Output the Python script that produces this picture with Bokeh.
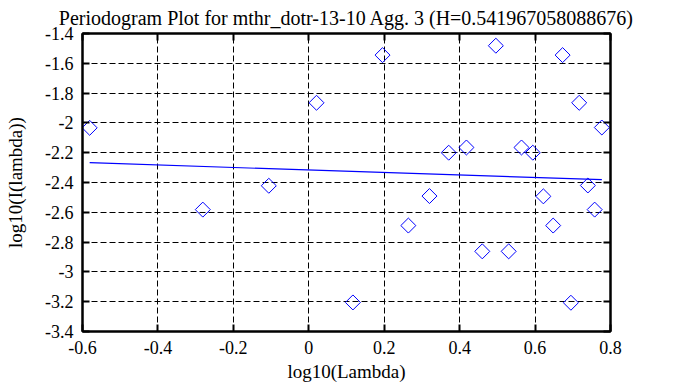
import math
import numpy as np
from bokeh.plotting import figure
from bokeh.models import (LinearAxis, FixedTicker, Range1d, ColumnDataSource, Title,
                          CustomJSTickFormatter)
from bokeh.embed import file_html
from bokeh.resources import INLINE

# Data
log_lambda = [-0.581, -0.281, -0.106, 0.0205, 0.117, 0.1955, 0.264, 0.320, 0.371,
              0.418, 0.460, 0.496, 0.530, 0.564, 0.594, 0.622, 0.648, 0.673,
              0.695, 0.717, 0.740, 0.758, 0.777]
log_I = [-2.033, -2.582, -2.422, -1.865, -3.205, -1.545, -2.689, -2.491, -2.200,
         -2.165, -2.862, -1.482, -2.862, -2.165, -2.200, -2.493, -2.689, -1.545,
         -3.207, -1.865, -2.420, -2.582, -2.031]
H = 0.541967058088676
fit_intercept = -2.316
x_ticks = [-0.6, -0.4, -0.2, 0, 0.2, 0.4, 0.6, 0.8]
y_ticks = [-3.4, -3.2, -3.0, -2.8, -2.6, -2.4, -2.2, -2.0, -1.8, -1.6, -1.4]
x_tick_labels = {-0.6: "-0.6", -0.4: "-0.4", -0.2: "-0.2", 0: "0", 0.2: "0.2",
                 0.4: "0.4", 0.6: "0.6", 0.8: "0.8"}
y_tick_labels = {-3.4: "-3.4", -3.2: "-3.2", -3.0: "-3", -2.8: "-2.8", -2.6: "-2.6",
                 -2.4: "-2.4", -2.2: "-2.2", -2.0: "-2", -1.8: "-1.8", -1.6: "-1.6",
                 -1.4: "-1.4"}
title_text = "Periodogram Plot for mthr_dotr-13-10 Agg. 3 (H=0.541967058088676)"

slope = 1 - 2 * H
fit_x = [min(log_lambda), max(log_lambda)]
fit_y = [fit_intercept + slope * v for v in fit_x]

FONT = "Liberation Serif"

p = figure(width=678, height=387, output_backend="svg", toolbar_location=None,
           x_range=Range1d(-0.6, 0.8), y_range=Range1d(-3.4, -1.4),
           min_border_left=82, min_border_right=68, min_border_top=31,
           min_border_bottom=56, x_axis_label="log10(Lambda)",
           y_axis_label="log10(I(lambda))")
p.title = Title(text=title_text, align="center", text_font=FONT,
                text_font_size="20px", text_font_style="normal", text_color="black",
                offset=0, standoff=9)
p.background_fill_color = "white"
p.border_fill_color = "white"
p.outline_line_color = "black"
p.outline_line_width = 2

for ax in (p.xaxis[0], p.yaxis[0]):
    ax.axis_line_width = 2
    ax.axis_line_color = "black"
    ax.major_tick_in = 7
    ax.major_tick_out = 0
    ax.major_tick_line_width = 2
    ax.minor_tick_line_color = None
    ax.major_label_text_font = FONT
    ax.major_label_text_font_size = "18px"
    ax.major_label_text_color = "black"
    ax.axis_label_text_font = FONT
    ax.axis_label_text_font_size = "19px"
    ax.axis_label_text_font_style = "normal"
    ax.axis_label_text_color = "black"

p.xaxis[0].ticker = FixedTicker(ticks=x_ticks)
p.xaxis[0].major_label_overrides = x_tick_labels
p.xaxis[0].major_label_standoff = 9
p.xaxis[0].axis_label_standoff = 4
p.yaxis[0].ticker = FixedTicker(ticks=y_ticks)
p.yaxis[0].major_label_overrides = y_tick_labels
p.yaxis[0].major_label_standoff = 9
p.yaxis[0].major_label_text_baseline = "top"
p.yaxis[0].axis_label_standoff = 16

blank = CustomJSTickFormatter(code="return '';")
for loc in ("right", "above"):
    ax = LinearAxis(ticker=FixedTicker(ticks=x_ticks if loc == "above" else y_ticks),
                    formatter=blank, major_tick_in=7,
                    major_tick_out=0, major_tick_line_width=2,
                    minor_tick_line_color=None, axis_line_width=2,
                    major_label_standoff=0)
    p.add_layout(ax, loc)

for g in (p.xgrid[0], p.ygrid[0]):
    g.grid_line_color = "black"
    g.grid_line_dash = "6 3"
    g.grid_line_width = 1
p.xgrid[0].ticker = FixedTicker(ticks=x_ticks[1:-1])
p.ygrid[0].ticker = FixedTicker(ticks=y_ticks[1:-1])

src = ColumnDataSource(dict(x=log_lambda, y=log_I))
p.scatter("x", "y", source=src, marker="square", angle=math.pi / 4, size=10.6,
          fill_color=None, line_color="#0000ff", line_width=1)
p.line(fit_x, fit_y, line_color="#0000ff", line_width=1.2)

open("out.html", "w").write(file_html(p, INLINE))
